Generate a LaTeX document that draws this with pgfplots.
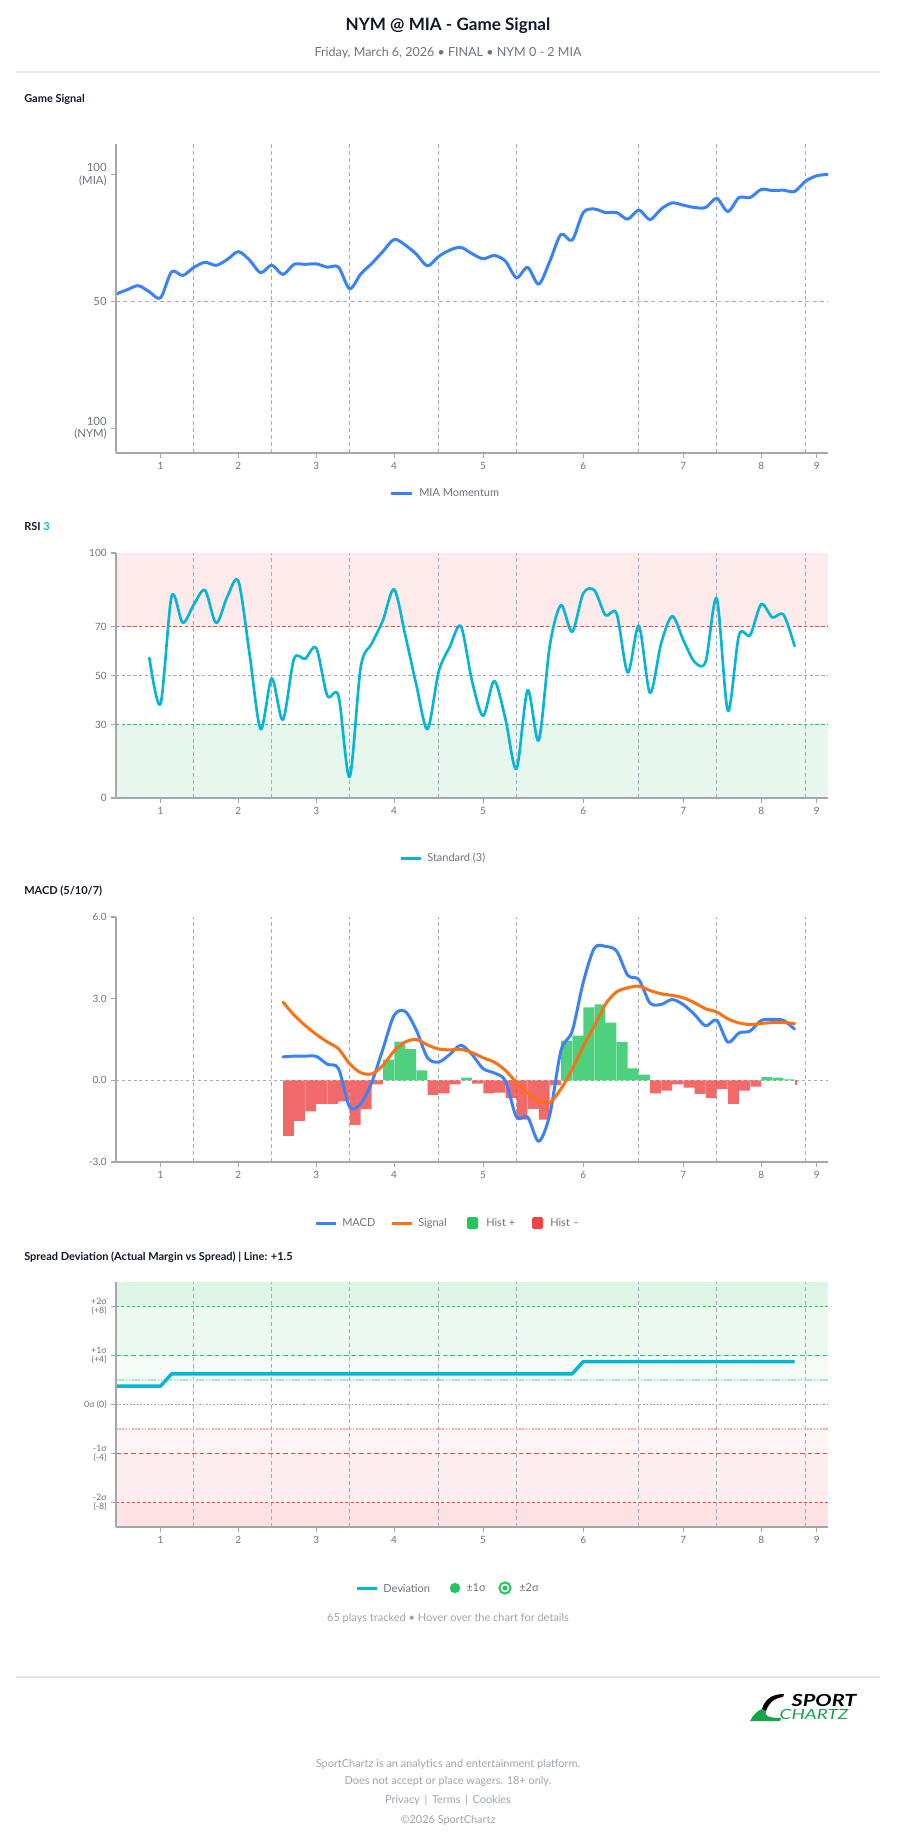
\documentclass[border=0pt]{standalone}
\usepackage{fontspec}
\setmainfont{Lato}
\usepackage{graphicx}
\usepackage{pgfplots}
\pgfplotsset{compat=1.18}

\definecolor{txtdark}{HTML}{111827}
\definecolor{txtgray}{HTML}{6B7280}
\definecolor{ltgray}{HTML}{9CA3AF}
\definecolor{axgray}{HTML}{A3A7AE}
\definecolor{gridgray}{HTML}{A8ADB5}
\definecolor{rulegray}{HTML}{E5E7EB}
\definecolor{cblue}{HTML}{3B82F6}
\definecolor{ccyan}{HTML}{06B6D4}
\definecolor{corange}{HTML}{F97316}
\definecolor{cgreen}{HTML}{22C55E}
\definecolor{cred}{HTML}{EF4444}
\definecolor{lgreen}{HTML}{86EFAC}
\definecolor{lred}{HTML}{FCA5A5}
\definecolor{bandpink}{HTML}{FDEBEB}
\definecolor{bandgreen}{HTML}{E8F7EE}
\definecolor{sgA}{HTML}{DCF5E5}
\definecolor{sgB}{HTML}{ECF9F1}
\definecolor{sgC}{HTML}{F5FCF7}
\definecolor{srC}{HTML}{FEF6F6}
\definecolor{srB}{HTML}{FDEDEE}
\definecolor{srA}{HTML}{FDE1E3}
\definecolor{logogreen}{HTML}{16A34A}

\newcommand{\legfont}{\fontsize{8.25}{10}\selectfont}
\tikzset{
  vline/.style={draw=gridgray, line width=0.8pt, dash pattern=on 3pt off 2.2pt},
}
\newcommand{\inninglines}[2]{%
  \pgfplotsinvokeforeach{7,14,21,29,36,47,54,62}{%
    \draw[vline] (axis cs:##1,#1) -- (axis cs:##1,#2);}}

\pgfplotsset{
  panel/.style={
    anchor=north west, scale only axis, width=534pt,
    xmin=0, xmax=64, enlargelimits=false,
    axis x line*=bottom, axis y line*=left,
    axis line style={draw=axgray, line width=1.5pt},
    xtick={4,11,18,25,33,42,51,58,63},
    xticklabels={1,2,3,4,5,6,7,8,9},
    tick align=outside, major tick length=3.5pt, minor tick num=0,
    tick style={draw=axgray, line width=0.9pt},
    ticklabel style={font=\fontsize{7.5}{8.5}\selectfont, text=txtgray},
    axis on top,
  },
}

\begin{document}
\begin{tikzpicture}
\begin{scope}[x=0.75pt,y=-0.75pt]
\path[use as bounding box] (0,0) rectangle (896,1845);
% header
\node[font=\fontsize{12.8}{15}\selectfont\bfseries, text=txtdark] at (448,26) {NYM @ MIA - Game Signal};
\node[font=\fontsize{9.4}{11}\selectfont, text=txtgray] at (448,53) {Friday, March 6, 2026 • FINAL • NYM 0 - 2 MIA};
\draw[rulegray, line width=0.9pt] (16,72) -- (880,72);
% panel titles
\node[anchor=west, font=\fontsize{8.25}{10}\selectfont\bfseries, text=txtdark, inner sep=0pt] at (24,99) {Game Signal};
\node[anchor=west, font=\fontsize{8.25}{10}\selectfont\bfseries, text=txtdark, inner sep=0pt] at (24,527) {RSI \textcolor{ccyan}{3}};
\node[anchor=west, font=\fontsize{8.25}{10}\selectfont\bfseries, text=txtdark, inner sep=0pt] at (24,891) {MACD (5/10/7)};
\node[anchor=west, font=\fontsize{8.25}{10}\selectfont\bfseries, text=txtdark, inner sep=0pt] at (24,1257) {Spread Deviation (Actual Margin vs Spread) | Line: +1.5};
% legends
\draw[cblue, line width=2.25pt] (391,493) -- (412,493);
\node[anchor=west, font=\legfont, text=txtgray, inner sep=0pt] at (419,493) {MIA Momentum};
\draw[ccyan, line width=2.25pt] (401,858) -- (421,858);
\node[anchor=west, font=\legfont, text=txtgray, inner sep=0pt] at (427,858) {Standard (3)};
\draw[cblue, line width=2.25pt] (316,1223) -- (336,1223);
\node[anchor=west, font=\legfont, text=txtgray, inner sep=0pt] at (342,1223) {MACD};
\draw[corange, line width=2.25pt] (392,1223) -- (412,1223);
\node[anchor=west, font=\legfont, text=txtgray, inner sep=0pt] at (418,1223) {Signal};
\fill[cgreen, rounded corners=1.2pt] (467,1217) rectangle (478,1229);
\node[anchor=west, font=\legfont, text=txtgray, inner sep=0pt] at (486,1223) {Hist +};
\fill[cred, rounded corners=1.2pt] (532,1217) rectangle (543,1229);
\node[anchor=west, font=\legfont, text=txtgray, inner sep=0pt] at (550,1223) {Hist –};
\draw[ccyan, line width=2.25pt] (357,1588) -- (377,1588);
\node[anchor=west, font=\legfont, text=txtgray, inner sep=0pt] at (383,1588) {Deviation};
\fill[cgreen] (455,1588) circle[radius=3.9pt];
\node[anchor=west, font=\legfont, text=txtgray, inner sep=0pt] at (466,1588) {±1σ};
\draw[cgreen, line width=1.5pt] (505,1588) circle[radius=4.2pt];
\fill[cgreen] (505,1588) circle[radius=1.9pt];
\node[anchor=west, font=\legfont, text=txtgray, inner sep=0pt] at (519,1588) {±2σ};
\node[font=\legfont, text=ltgray] at (448,1618) {65 plays tracked • Hover over the chart for details};
% footer
\draw[rulegray, line width=0.9pt] (16,1677) -- (880,1677);
\fill[black] (762,1709) .. controls (765,1699) and (772,1694) .. (784,1694) -- (783,1697) .. controls (774,1698) and (769,1703) .. (766,1711) -- cycle;
\fill[logogreen] (750,1721) .. controls (753,1715) and (757,1711) .. (762,1709) -- (766,1711) .. controls (763,1716) and (770,1718) .. (781,1718) -- (780,1721) -- cycle;
\node[font=\fontsize{12.5}{13}\selectfont\bfseries\itshape, text=black, inner sep=0pt] at (824,1700) {\scalebox{1.3}[1]{SPORT}};
\node[font=\fontsize{10.5}{11}\selectfont\itshape, text=logogreen, inner sep=0pt] at (814,1714.5) {\scalebox{1.35}[1]{CHARTZ}};
\node[font=\fontsize{8.2}{9}\selectfont, text=ltgray] at (448,1764) {SportChartz is an analytics and entertainment platform.};
\node[font=\fontsize{8.2}{9}\selectfont, text=ltgray] at (448,1781) {Does not accept or place wagers. 18+ only.};
\node[font=\fontsize{8.2}{9}\selectfont, text=ltgray] at (448,1800) {Privacy \,|\, Terms \,|\, Cookies};
\node[font=\fontsize{8.2}{9}\selectfont, text=ltgray] at (448,1820) {©2026 SportChartz};
\end{scope}

% ---------- Panel 1: Game Signal ----------
\begin{axis}[panel, at={(87pt,-108pt)}, height=231.75pt, ymin=-9.7, ymax=112,
  ytick={0,50,100}, yticklabels={{100\\(NYM)},{50},{100\\(MIA)}},
  yticklabel style={align=right, font=\fontsize{8.5}{9.5}\selectfont}]
\inninglines{-9.7}{112}
\draw[gridgray, line width=0.8pt, dash pattern=on 3pt off 2.5pt] (axis cs:0,50) -- (axis cs:64,50);
\addplot[cblue, line width=2.25pt, smooth, tension=0.5, line join=round, line cap=round] table {
x y
0 52.9
1 54.6
2 56.2
3 53.8
4 51.4
5 61.7
6 60.2
7 63.4
8 65.4
9 64.2
10 66.5
11 69.6
12 66.3
13 61.3
14 64.3
15 60.6
16 64.6
17 64.6
18 64.8
19 63.5
20 63.5
21 55.0
22 60.8
23 65.0
24 69.7
25 74.4
26 72.2
27 68.6
28 64.0
29 67.7
30 70.2
31 71.3
32 68.8
33 66.8
34 68.1
35 65.9
36 59.3
37 63.4
38 56.8
39 65.9
40 76.4
41 74.1
42 85.0
43 86.4
44 85.0
45 85.0
46 82.4
47 86.0
48 82.2
49 86.4
50 88.8
51 87.9
52 87.0
53 87.0
54 90.6
55 85.4
56 90.9
57 90.9
58 94.1
59 93.7
60 93.8
61 93.3
62 97.4
63 99.5
64 100.0
};
\end{axis}

% ---------- Panel 2: RSI ----------
\begin{axis}[panel, at={(87pt,-414.75pt)}, height=183.75pt, ymin=0, ymax=100,
  ytick={0,30,50,70,100}, yticklabels={0,30,50,70,100}]
\fill[bandpink] (axis cs:0,70) rectangle (axis cs:64,100);
\fill[bandgreen] (axis cs:0,0) rectangle (axis cs:64,30);
\inninglines{0}{100}
\draw[cred, line width=0.8pt, dash pattern=on 2.5pt off 1.8pt] (axis cs:0,70) -- (axis cs:64,70);
\draw[gridgray, line width=0.8pt, dash pattern=on 2.5pt off 1.8pt] (axis cs:0,50) -- (axis cs:64,50);
\draw[cgreen, line width=0.8pt, dash pattern=on 2.5pt off 1.8pt] (axis cs:0,30) -- (axis cs:64,30);
\addplot[ccyan, line width=2pt, smooth, tension=0.5, line join=round, line cap=round] table {
x y
3 57.2
4 38.3
5 82.4
6 71.5
7 79.0
8 84.8
9 71.4
10 82.1
11 88.5
12 59.0
13 28.1
14 48.8
15 31.9
16 56.8
17 56.8
18 61.2
19 41.7
20 41.7
21 8.6
22 53.5
23 63.1
24 72.6
25 85.2
26 66.5
27 46.1
28 28.1
29 51.5
30 61.7
31 70.1
32 47.8
33 33.5
34 47.8
35 32.4
36 11.9
37 44.0
38 23.6
39 62.4
40 78.7
41 67.8
42 83.5
43 84.8
44 74.6
45 75.3
46 51.2
47 70.3
48 42.9
49 63.1
50 74.2
51 64.4
52 55.6
53 55.6
54 81.4
55 35.6
56 66.5
57 66.5
58 79.1
59 73.7
60 74.9
61 62.0
};
\end{axis}

% ---------- Panel 3: MACD ----------
\begin{axis}[panel, at={(87pt,-687.75pt)}, height=183.75pt, ymin=-3, ymax=6,
  ytick={-3,0,3,6}, yticklabels={-3.0,0.0,3.0,6.0}]
\inninglines{-3}{6}
\draw[gridgray, line width=0.8pt, dash pattern=on 2.2pt off 2.2pt] (axis cs:0,0) -- (axis cs:64,0);
\addplot[ybar, bar shift=0pt, bar width=0.96, fill=cgreen, fill opacity=0.8, draw=none] table {
x y
24.5 0.76
25.5 1.42
26.5 1.15
27.5 0.37
31.5 0.10
40.5 1.46
41.5 1.64
42.5 2.68
43.5 2.79
44.5 2.12
45.5 1.40
46.5 0.44
47.5 0.21
58.5 0.12
59.5 0.10
60.5 0.04
};
\addplot[ybar, bar shift=0pt, bar width=0.96, fill=cred, fill opacity=0.8, draw=none] table {
x y
15.5 -2.04
16.5 -1.49
17.5 -1.14
18.5 -0.86
19.5 -0.86
20.5 -0.77
21.5 -1.64
22.5 -1.06
23.5 -0.15
28.5 -0.53
29.5 -0.48
30.5 -0.15
32.5 -0.12
33.5 -0.48
34.5 -0.45
35.5 -0.65
36.5 -1.44
37.5 -1.05
38.5 -1.44
39.5 -0.18
48.5 -0.48
49.5 -0.38
50.5 -0.15
51.5 -0.27
52.5 -0.50
53.5 -0.65
54.5 -0.32
55.5 -0.86
56.5 -0.38
57.5 -0.23
};
\addplot[ybar, bar shift=0pt, bar width=0.15, fill=cred, fill opacity=0.8, draw=none] table {
x y
61.1 -0.18
};
\addplot[cblue, line width=2.25pt, smooth, tension=0.5, line join=round, line cap=round] table {
x y
15 0.86
16 0.89
17 0.89
18 0.88
19 0.59
20 0.43
21 -0.98
22 -0.86
23 -0.06
24 1.16
25 2.39
26 2.53
27 1.84
28 0.83
29 0.67
30 0.95
31 1.29
32 0.95
33 0.43
34 0.27
35 -0.02
36 -1.35
37 -1.35
38 -2.24
39 -1.25
40 1.10
41 1.80
42 3.60
43 4.86
44 4.92
45 4.75
46 3.86
47 3.70
48 2.84
49 2.79
50 2.97
51 2.78
52 2.42
53 2.00
54 2.21
55 1.40
56 1.74
57 1.81
58 2.20
59 2.24
60 2.20
61 1.88
};
\addplot[corange, line width=2.25pt, smooth, tension=0.5, line join=round, line cap=round] table {
x y
15 2.88
16 2.40
17 2.02
18 1.69
19 1.41
20 1.16
21 0.61
22 0.28
23 0.24
24 0.55
25 1.08
26 1.41
27 1.50
28 1.30
29 1.15
30 1.12
31 1.14
32 1.02
33 0.83
34 0.67
35 0.37
36 -0.08
37 -0.47
38 -0.75
39 -0.82
40 -0.31
41 0.40
42 1.25
43 2.00
44 2.80
45 3.25
46 3.40
47 3.46
48 3.30
49 3.18
50 3.12
51 3.03
52 2.85
53 2.63
54 2.51
55 2.26
56 2.11
57 2.05
58 2.09
59 2.12
60 2.13
61 2.08
};
\end{axis}

% ---------- Panel 4: Spread Deviation ----------
\begin{axis}[panel, at={(87pt,-961.5pt)}, height=183.75pt, ymin=-10, ymax=10,
  ytick={-8,-4,0,4,8},
  yticklabels={{-2σ\\(-8)},{-1σ\\(-4)},{0σ (0)},{+1σ\\(+4)},{+2σ\\(+8)}},
  yticklabel style={align=right, font=\fontsize{6.6}{7.4}\selectfont}]
\fill[sgA] (axis cs:0,8) rectangle (axis cs:64,10);
\fill[sgB] (axis cs:0,4) rectangle (axis cs:64,8);
\fill[sgC] (axis cs:0,2) rectangle (axis cs:64,4);
\fill[srC] (axis cs:0,-2) rectangle (axis cs:64,-4);
\fill[srB] (axis cs:0,-4) rectangle (axis cs:64,-8);
\fill[srA] (axis cs:0,-8) rectangle (axis cs:64,-10);
\inninglines{-10}{10}
\draw[cgreen, line width=0.9pt, dash pattern=on 2.2pt off 1.8pt] (axis cs:0,8) -- (axis cs:64,8);
\draw[cgreen, line width=0.9pt, dash pattern=on 3.5pt off 2.2pt] (axis cs:0,4) -- (axis cs:64,4);
\draw[lgreen, line width=1pt, dash pattern=on 1.2pt off 1.2pt] (axis cs:0,2) -- (axis cs:64,2);
\draw[ltgray, line width=1.3pt, dash pattern=on 1.3pt off 1.3pt] (axis cs:0,0) -- (axis cs:64,0);
\draw[lred, line width=1pt, dash pattern=on 1.2pt off 1.2pt] (axis cs:0,-2) -- (axis cs:64,-2);
\draw[cred, line width=0.9pt, dash pattern=on 3.5pt off 2.2pt] (axis cs:0,-4) -- (axis cs:64,-4);
\draw[cred, line width=0.9pt, dash pattern=on 2.2pt off 1.8pt] (axis cs:0,-8) -- (axis cs:64,-8);
\addplot[ccyan, line width=2.6pt, line join=round] table {
x y
0 1.5
1 1.5
2 1.5
3 1.5
4 1.5
5 2.5
6 2.5
41 2.5
42 3.5
43 3.5
61 3.5
};
\end{axis}
\end{tikzpicture}
\end{document}
